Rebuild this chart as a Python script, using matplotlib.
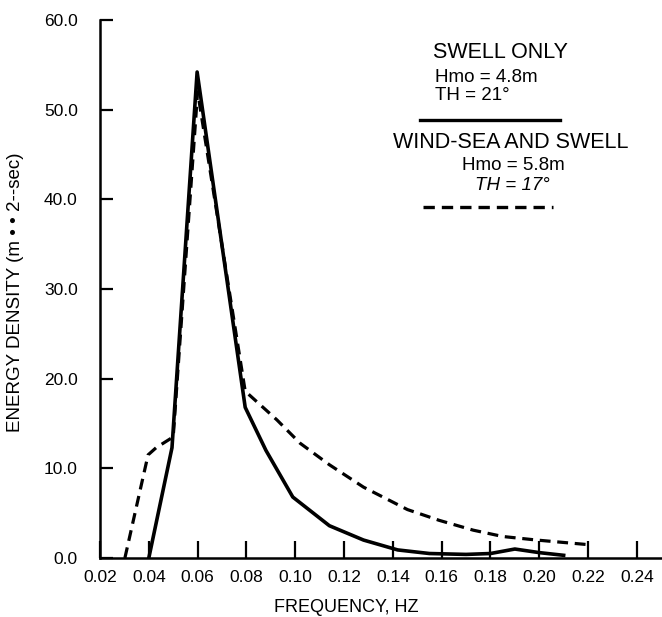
import matplotlib

matplotlib.use("Agg")
import matplotlib.pyplot as plt
from matplotlib.lines import Line2D

plt.rcParams["font.family"] = ["Liberation Sans", "DejaVu Sans"]

# swell only (solid)
swell_f = [0.040, 0.0495, 0.0598, 0.0795, 0.088, 0.099, 0.114, 0.128, 0.142,
           0.155, 0.170, 0.180, 0.190, 0.200, 0.210]
swell_e = [0.0, 12.3, 54.2, 16.8, 12.0, 6.8, 3.6, 2.0, 0.9,
           0.5, 0.4, 0.5, 1.0, 0.6, 0.3]

# wind-sea and swell (dashed)
wind_f = [0.0302, 0.0397, 0.043, 0.050, 0.060, 0.0795, 0.0925, 0.102, 0.114,
          0.128, 0.146, 0.159, 0.173, 0.185, 0.199, 0.2196]
wind_e = [0.0, 11.5, 12.3, 13.5, 52.0, 18.6, 15.4, 12.8, 10.4,
          7.9, 5.4, 4.2, 3.1, 2.4, 2.0, 1.5]

x_ticks = [0.02, 0.04, 0.06, 0.08, 0.10, 0.12, 0.14, 0.16, 0.18, 0.20, 0.22, 0.24]
y_ticks = [0.0, 10.0, 20.0, 30.0, 40.0, 50.0, 60.0]

W, H = 662, 617
fig = plt.figure(figsize=(W / 100, H / 100), dpi=100)
ax = fig.add_axes([100 / W, 1 - 558 / H, 562 / W, 538 / H])

ax.plot(swell_f, swell_e, color="black", lw=2.6, solid_joinstyle="round")
ax.plot(wind_f, wind_e, color="black", lw=2.3, dashes=(3.4, 2.1))

ax.set_xlim(0.02, 0.2503)
ax.set_ylim(0, 60)
ax.set_xticks(x_ticks)
ax.set_xticklabels([f"{v:.2f}" for v in x_ticks], fontsize=12.5)
ax.set_yticks(y_ticks)
ax.set_yticklabels([f"{v:.1f}" for v in y_ticks], fontsize=12.5)
ax.tick_params(axis="x", direction="in", length=12, width=1.6, pad=9)
ax.tick_params(axis="y", direction="in", length=9, width=1.6, pad=16)
for side in ("top", "right"):
    ax.spines[side].set_visible(False)
for side in ("left", "bottom"):
    ax.spines[side].set_linewidth(1.8)

fig.text(16 / W, 1 - 292 / H, "ENERGY DENSITY (m • • 2--sec)", rotation=90,
         ha="center", va="center", fontsize=13.5)
fig.text(346 / W, 1 - 607 / H, "FREQUENCY, HZ", ha="center", va="center",
         fontsize=13)

# legend block
def ftxt(x, y, s, **kw):
    fig.text(x / W, 1 - y / H, s, va="center", **kw)

ftxt(500, 53, "SWELL ONLY", ha="center", fontsize=15.5)
ftxt(435, 77, "Hmo = 4.8m", ha="left", fontsize=13.5)
ftxt(435, 96, "TH = 21°", ha="left", fontsize=13.5)
fig.add_artist(Line2D([420 / W, 560 / W], [1 - 120 / H, 1 - 120 / H],
                      color="black", lw=2.4))
ftxt(511, 143, "WIND-SEA AND SWELL", ha="center", fontsize=15.5)
ftxt(462, 166, "Hmo = 5.8m", ha="left", fontsize=13.5)
ftxt(475, 185, "TH = 17°", ha="left", fontsize=13.5, style="italic")
fig.add_artist(Line2D([423 / W, 553 / W], [1 - 207 / H, 1 - 207 / H],
                      color="black", lw=2.4, dashes=(3.4, 2.1)))

fig.savefig("out.png", dpi=100)
